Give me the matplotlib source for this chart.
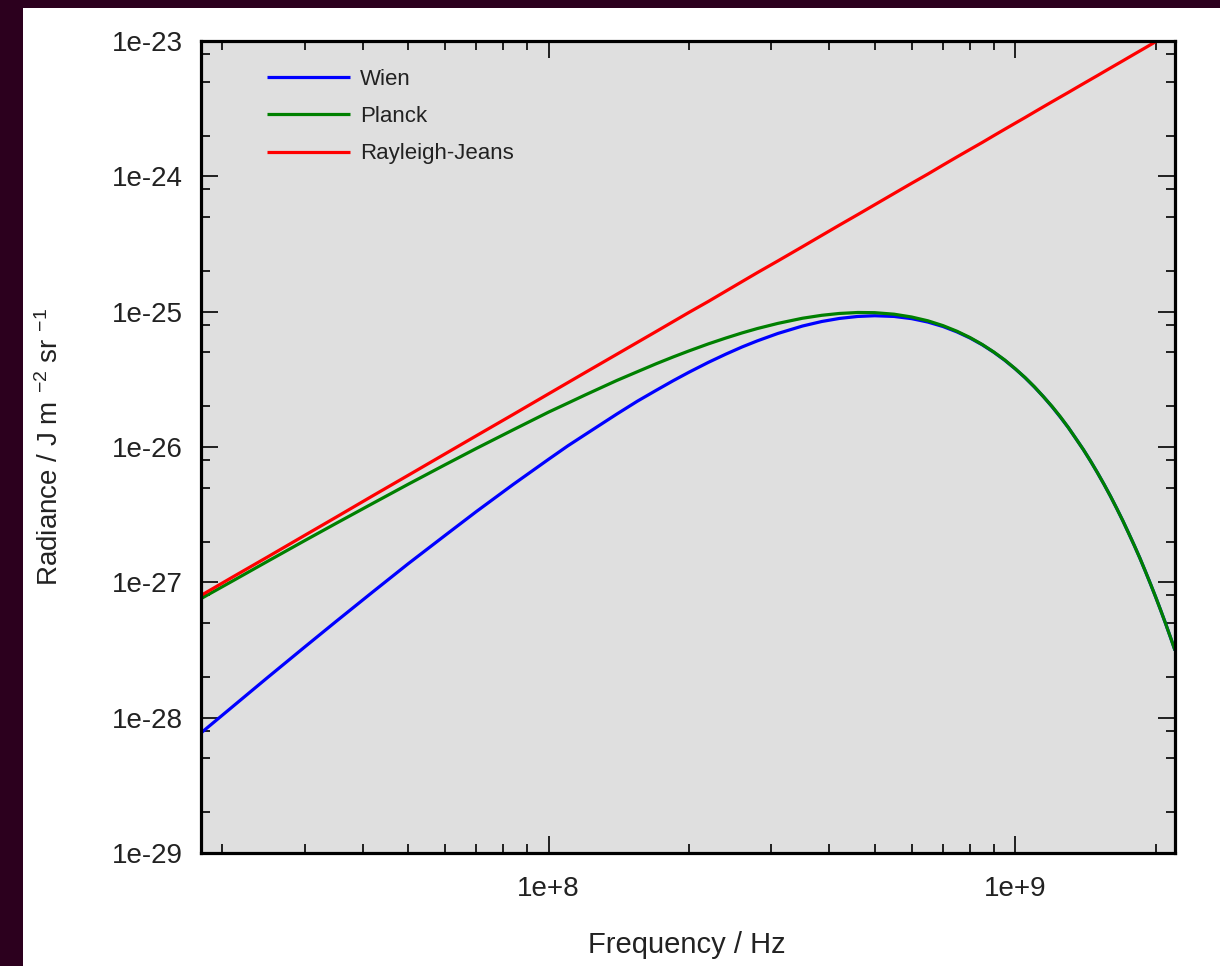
import math

import matplotlib
matplotlib.use("Agg")
import matplotlib.pyplot as plt
from matplotlib.patches import Rectangle
from matplotlib.ticker import FixedLocator, FuncFormatter, LogLocator, NullFormatter


# values (log-log axes)
FREQ_HZ = [1.8e7, 2.1e7, 2.5e7, 3.0e7, 3.5e7, 4.2e7, 5e7, 6e7, 7e7, 8.4e7,
           1e8, 1.1e8, 1.2e8, 1.4e8, 1.55e8, 1.7e8, 1.85e8, 2e8, 2.2e8, 2.4e8,
           2.6e8, 2.8e8, 3.1e8, 3.5e8, 3.85e8, 4.2e8, 4.6e8, 5e8, 5.5e8, 6e8,
           6.5e8, 7e8, 7.5e8, 8e8, 8.5e8, 9e8, 9.5e8, 1e9, 1.05e9, 1.1e9,
           1.15e9, 1.2e9, 1.25e9, 1.3e9, 1.35e9, 1.4e9, 1.45e9, 1.5e9, 1.55e9, 1.6e9,
           1.65e9, 1.7e9, 1.75e9, 1.8e9, 1.85e9, 1.9e9, 1.95e9, 2e9, 2.05e9, 2.1e9,
           2.15e9, 2.2e9]

WIEN = [7.71e-29, 1.20e-28, 1.98e-28, 3.32e-28, 5.12e-28, 8.49e-28, 1.37e-27,
        2.22e-27, 3.33e-27, 5.29e-27,
        8.11e-27, 1.02e-26, 1.24e-26, 1.75e-26, 2.18e-26, 2.62e-26, 3.09e-26,
        3.57e-26, 4.22e-26, 4.86e-26,
        5.49e-26, 6.08e-26, 6.90e-26, 7.83e-26, 8.46e-26, 8.91e-26, 9.22e-26,
        9.33e-26, 9.22e-26, 8.88e-26,
        8.38e-26, 7.77e-26, 7.09e-26, 6.39e-26, 5.69e-26, 5.01e-26, 4.37e-26,
        3.78e-26, 3.25e-26, 2.77e-26,
        2.35e-26, 1.98e-26, 1.66e-26, 1.39e-26, 1.15e-26, 9.56e-27, 7.88e-27,
        6.47e-27, 5.30e-27, 4.33e-27,
        3.52e-27, 2.86e-27, 2.31e-27, 1.87e-27, 1.51e-27, 1.21e-27, 9.71e-28,
        7.78e-28, 6.22e-28, 4.96e-28,
        3.95e-28, 3.14e-28]

PLANCK = [7.58e-28, 1.02e-27, 1.43e-27, 2.03e-27, 2.72e-27, 3.83e-27, 5.30e-27,
          7.39e-27, 9.75e-27, 1.34e-26,
          1.81e-26, 2.11e-26, 2.43e-26, 3.10e-26, 3.60e-26, 4.12e-26, 4.63e-26,
          5.13e-26, 5.78e-26, 6.39e-26,
          6.97e-26, 7.50e-26, 8.19e-26, 8.94e-26, 9.40e-26, 9.70e-26, 9.86e-26,
          9.83e-26, 9.58e-26, 9.13e-26,
          8.56e-26, 7.89e-26, 7.17e-26, 6.44e-26, 5.72e-26, 5.03e-26, 4.39e-26,
          3.79e-26, 3.26e-26, 2.78e-26,
          2.35e-26, 1.99e-26, 1.67e-26, 1.39e-26, 1.15e-26, 9.56e-27, 7.88e-27,
          6.47e-27, 5.30e-27, 4.33e-27,
          3.52e-27, 2.86e-27, 2.31e-27, 1.87e-27, 1.51e-27, 1.21e-27, 9.71e-28,
          7.78e-28, 6.22e-28, 4.96e-28,
          3.95e-28, 3.14e-28]

RAYLEIGH_JEANS = [8.00e-28, 1.09e-27, 1.54e-27, 2.22e-27, 3.02e-27, 4.36e-27,
                  6.17e-27, 8.89e-27, 1.21e-26, 1.74e-26,
                  2.47e-26, 2.99e-26, 3.56e-26, 4.84e-26, 5.93e-26, 7.13e-26,
                  8.45e-26, 9.88e-26, 1.19e-25, 1.42e-25,
                  1.67e-25, 1.94e-25, 2.37e-25, 3.02e-25, 3.66e-25, 4.36e-25,
                  5.22e-25, 6.17e-25, 7.47e-25, 8.89e-25,
                  1.04e-24, 1.21e-24, 1.39e-24, 1.58e-24, 1.78e-24, 2.00e-24,
                  2.23e-24, 2.47e-24, 2.72e-24, 2.99e-24,
                  3.27e-24, 3.56e-24, 3.86e-24, 4.17e-24, 4.50e-24, 4.84e-24,
                  5.19e-24, 5.55e-24, 5.93e-24, 6.32e-24,
                  6.72e-24, 7.13e-24, 7.56e-24, 8.00e-24, 8.45e-24, 8.91e-24,
                  9.39e-24, 9.88e-24, 1.04e-23, 1.09e-23,
                  1.14e-23, 1.19e-23]

SERIES = [
    ("Wien", WIEN, "#0000ff"),
    ("Planck", PLANCK, "#008000"),
    ("Rayleigh-Jeans", RAYLEIGH_JEANS, "#ff0000"),
]

X_LIMITS = (1.8e7, 2.2e9)
Y_LIMITS = (1e-29, 1e-23)
X_TICKS = [1e8, 1e9]
Y_TICKS = [1e-29, 1e-28, 1e-27, 1e-26, 1e-25, 1e-24, 1e-23]

plt.rcParams["font.family"] = ["Liberation Sans", "DejaVu Sans"]
plt.rcParams["mathtext.fontset"] = "custom"
plt.rcParams["mathtext.rm"] = "Liberation Sans"
plt.rcParams["mathtext.it"] = "Liberation Sans:italic"
plt.rcParams["mathtext.bf"] = "Liberation Sans:bold"


def exp_label(value, _pos):
    return f"1e{round(math.log10(value)):+d}"


def main() -> None:
    fig = plt.figure(figsize=(12.2, 9.66), dpi=100, facecolor="#2c001e")
    # white page, dark strip only along the top and left edges
    fig.add_artist(Rectangle((23 / 1220, 0), 1 - 23 / 1220, 1 - 8 / 966,
                             transform=fig.transFigure, facecolor="white",
                             edgecolor="none", zorder=-1))

    ax = fig.add_axes([201 / 1220, 1 - 853 / 966, 974 / 1220, 812 / 966])
    ax.set_facecolor("#dfdfdf")

    for label, values, color in SERIES:
        ax.plot(FREQ_HZ, values, color=color, lw=2.3, label=label,
                solid_capstyle="butt", solid_joinstyle="round")

    ax.set_xscale("log")
    ax.set_yscale("log")
    ax.set_xlim(*X_LIMITS)
    ax.set_ylim(*Y_LIMITS)

    ax.xaxis.set_major_locator(FixedLocator(X_TICKS))
    ax.yaxis.set_major_locator(FixedLocator(Y_TICKS))
    ax.xaxis.set_minor_locator(LogLocator(base=10, subs=range(2, 10), numticks=20))
    ax.yaxis.set_minor_locator(LogLocator(base=10, subs=(2, 5, 8), numticks=20))
    ax.xaxis.set_major_formatter(FuncFormatter(exp_label))
    ax.yaxis.set_major_formatter(FuncFormatter(exp_label))
    ax.xaxis.set_minor_formatter(NullFormatter())
    ax.yaxis.set_minor_formatter(NullFormatter())

    ax.tick_params(which="both", direction="in", top=True, right=True,
                   color="black", labelcolor="#222222")
    ax.tick_params(which="major", length=12.5, width=1.2, labelsize=20)
    ax.tick_params(which="minor", length=6.5, width=1.2)
    ax.tick_params(axis="y", which="major", pad=13)
    ax.tick_params(axis="x", which="major", pad=16.5)
    for spine in ax.spines.values():
        spine.set_linewidth(2.3)

    ax.set_xlabel("Frequency / Hz", fontsize=21, color="#222222")
    ax.set_ylabel("Radiance / J m $^{-2}$ sr $^{-1}$", fontsize=20, color="#222222")
    ax.xaxis.set_label_coords(0.499, -0.0965)
    ax.yaxis.set_label_coords(-0.141, 0.5)

    legend = ax.legend(loc="upper left", bbox_to_anchor=(0.0678, 0.9655),
                       frameon=False, fontsize=16, handlelength=3.73,
                       handletextpad=0.45, labelspacing=0.73, borderpad=0,
                       borderaxespad=0)
    for text in legend.get_texts():
        text.set_color("#222222")

    fig.savefig("out.png", dpi=100, facecolor=fig.get_facecolor())
    plt.close(fig)


if __name__ == "__main__":
    main()
